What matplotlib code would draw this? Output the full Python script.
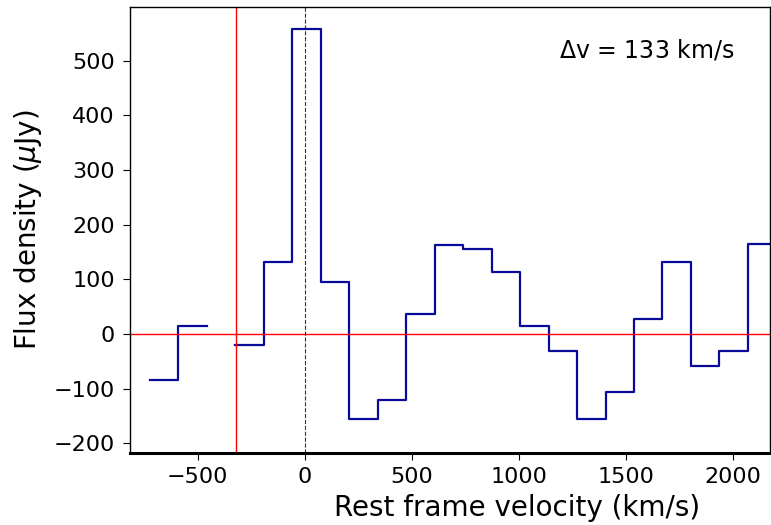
import numpy as np
import matplotlib
matplotlib.use("Agg")
import matplotlib.pyplot as plt

# Data: bin centres (km/s) and flux density (uJy); NaN = missing channel
bin_width = 133
velocity_centres = [-657, -524, -391, -258, -125, 9, 142, 275, 408, 541, 674,
                    807, 940, 1073, 1206, 1339, 1472, 1605, 1738, 1871, 2004, 2137]
flux_density = [-84, 15, np.nan, -20, 131, 558, 94, -156, -121, 37, 163,
                155, 114, 14, -32, -155, -107, 27, 132, -58, -32, 164]
red_line_velocity = -320
annotation = r"$\Delta$v = 133 km/s"

centres = np.array(velocity_centres, dtype=float)
flux = np.array(flux_density, dtype=float)
edges = np.append(centres - bin_width / 2, centres[-1] + bin_width / 2)

fig = plt.figure(figsize=(7.71, 5.25), dpi=100)
ax = fig.add_axes([130 / 771, 1 - 453 / 525, 640 / 771, 446 / 525])

ax.step(edges, np.append(flux, flux[-1]), where='post', color='#0a0a9a', lw=1.6)
ax.axhline(0, color='red', lw=1)
ax.axvline(red_line_velocity, color='red', lw=1)
ax.axvline(0, color='black', ls='--', lw=0.8, alpha=0.8)

ax.set_xlim(-816, 2174)
ax.set_ylim(-218, 598)
ax.set_xticks([-500, 0, 500, 1000, 1500, 2000])
ax.set_yticks([-200, -100, 0, 100, 200, 300, 400, 500])
ax.tick_params(labelsize=16, length=5)
ax.tick_params(axis='y', pad=6)
ax.tick_params(axis='x', pad=5)

ax.set_xlabel("Rest frame velocity (km/s)", fontsize=20, va='top')
ax.set_ylabel(r"Flux density ($\mu$Jy)", fontsize=20)
ax.xaxis.set_label_coords(0.605, -0.092)
ax.yaxis.set_label_coords(-0.134, 0.5)

ax.text(0.670, 0.904, annotation, transform=ax.transAxes, fontsize=17,
        va='center', ha='left')

ax.spines['bottom'].set_linewidth(2.2)
for s in ['left', 'top', 'right']:
    ax.spines[s].set_linewidth(1)

fig.savefig("out.png", dpi=100)
